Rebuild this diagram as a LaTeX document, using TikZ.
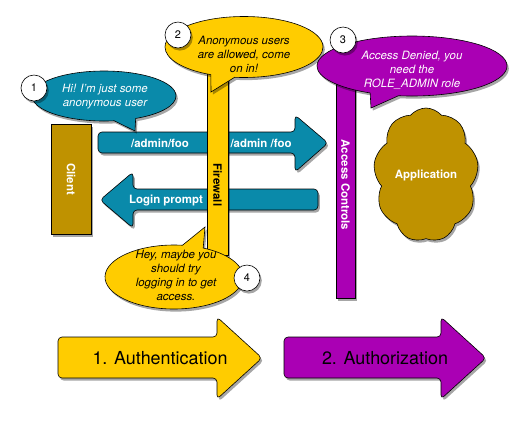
\documentclass[tikz,border=0pt]{standalone}
\usepackage{fontspec}
\setmainfont{TeX Gyre Heros}
\usetikzlibrary{shapes.callouts,shapes.symbols,shadows}
\definecolor{tealc}{RGB}{10,138,170}
\definecolor{yelc}{RGB}{255,204,0}
\definecolor{purc}{RGB}{170,0,180}
\definecolor{olc}{RGB}{191,146,0}
\tikzset{
  shd/.style={drop shadow={shadow xshift=1.8bp,shadow yshift=-2.6bp,opacity=0.35,fill=black}},
  blk/.style={draw=black,line width=0.6pt,shd},
  lbl/.style={font=\bfseries\fontsize{11.5}{14}\selectfont,inner sep=0pt},
  bub/.style={ellipse callout,blk,inner sep=0pt,callout pointer arc=18},
  btxt/.style={font=\itshape\fontsize{11.5}{14}\selectfont,align=center,inner sep=0pt},
  numc/.style={circle,blk,fill=white,minimum size=26bp,inner sep=0pt,font=\fontsize{11}{13}\selectfont},
  big/.style={font=\fontsize{18}{20}\selectfont,inner sep=0pt}
}
\begin{document}
\begin{tikzpicture}[x=1bp,y=-1bp]
\useasboundingbox[fill=white] (0,0) rectangle (526,428);
% teal arrows
\path[blk,fill=tealc,rounded corners=4bp] (98,132) -- (295,132) -- (295,115) -- (328,143) -- (295,172) -- (295,153) -- (98,153) -- cycle;
\path[blk,fill=tealc,rounded corners=4bp] (318,189) -- (133,189) -- (133,172) -- (100,200) -- (133,228) -- (133,210) -- (318,210) -- cycle;
\node[lbl,text=white] (req1) at (160,143) {/admin/foo};
\node[lbl,text=white] (req2) at (261,143) {/admin /foo};
\node[lbl,text=white] (login) at (166,200) {Login prompt};
% client
\path[blk,fill=olc] (51,124) rectangle (91,234);
\node[lbl,text=white,rotate=-90] (client) at (71,179) {Client};
% firewall bar
\path[blk,fill=yelc] (207,60) rectangle (228,255);
\node[lbl,text=black,rotate=-90] (fw) at (217.5,185) {Firewall};
% access controls bar
\path[blk,fill=purc] (336,70) rectangle (355,298);
\node[lbl,text=white,rotate=-90] (ac) at (345.5,185) {Access Controls};
% application cloud
\node[cloud,blk,fill=olc,cloud puffs=9,cloud puff arc=100,aspect=0.78,inner sep=0pt,minimum width=105bp,minimum height=134bp] (app) at (426,175) {};
\node[lbl,text=white] (apptxt) at (426,175) {Application};
% bottom arrows
\path[blk,fill=yelc,rounded corners=4bp] (58,337) -- (217,337) -- (217,317) -- (262,358) -- (217,399) -- (217,378) -- (58,378) -- cycle;
\node[big] (authn) at (160,358) {1. Authentication};
\path[blk,fill=purc,rounded corners=4bp] (284,337) -- (441,337) -- (441,317) -- (486,358) -- (441,399) -- (441,378) -- (284,378) -- cycle;
\node[big] (authz) at (385,358) {2. Authorization};
% bubbles
\node[bub,fill=tealc,minimum width=144bp,minimum height=50bp,callout absolute pointer={(135,131)}] (b1) at (104,96) {};
\node[btxt,text=white] (t1) at (105,97) {Hi! I'm just some\\anonymous user};
\node[bub,fill=yelc,minimum width=158bp,minimum height=61bp,callout absolute pointer={(211,92)}] (b2) at (244,47) {};
\node[btxt,text=black] (t2) at (244,54) {Anonymous users\\are allowed, come\\on in!};
\node[bub,fill=purc,minimum width=190bp,minimum height=60bp,callout absolute pointer={(371,108)}] (b3) at (412,66) {};
\node[btxt,text=white] (t3) at (412,70) {Access Denied, you\\need the\\ROLE\_ADMIN role};
\node[bub,fill=yelc,minimum width=138bp,minimum height=64bp,callout absolute pointer={(205,227)}] (b4) at (174,277) {};
\node[btxt,text=black] (t4) at (176,275) {Hey, maybe you\\should try\\logging in to get\\access.};
% numbers
\node[numc] (c1) at (34,88) {1};
\node[numc] (c2) at (178,35) {2};
\node[numc] (c3) at (343,40) {3};
\node[numc] (c4) at (247,278) {4};
\end{tikzpicture}
\end{document}
